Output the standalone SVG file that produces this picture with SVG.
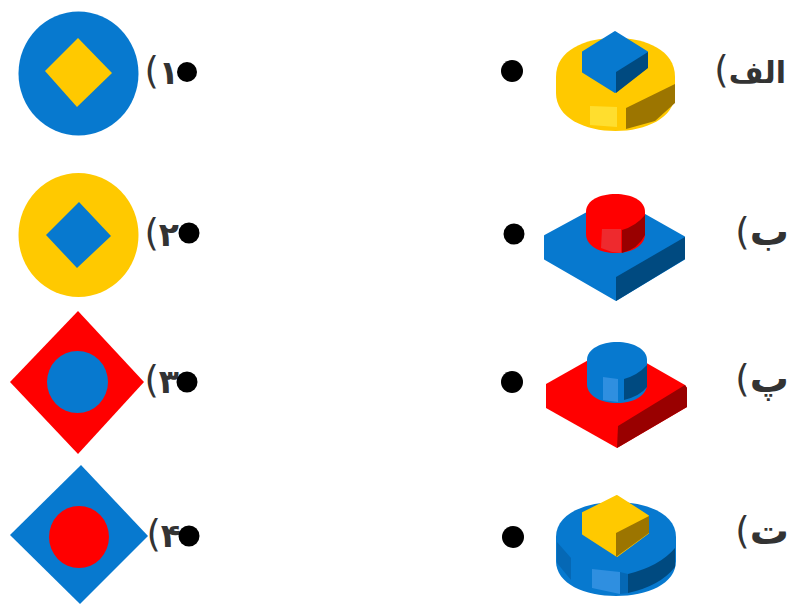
<svg xmlns="http://www.w3.org/2000/svg" width="791" height="604" viewBox="0 0 791 604">
<style>
.lb{font-family:"DejaVu Sans","Noto Sans",sans-serif;font-weight:700;font-size:33px;fill:#333;direction:rtl;text-anchor:start}
.big{font-size:39px}
.pr{font-size:37px;font-weight:400}
.dot{fill:#000}
.bl{fill:#0779cf}.bd{fill:#004a80}.bm{fill:#0568b5}.bh{fill:#2f8fe0}
.ye{fill:#ffc900}.yd{fill:#9c7500}.yh{fill:#ffde2e}
.re{fill:#f00}.rd{fill:#990000}.rh{fill:#ee2a2e}
.rj{stroke-linejoin:round;stroke-width:2}
.rj.bl{stroke:#0779cf}.rj.ye{stroke:#ffc900}
</style>
<rect width="791" height="604" fill="#fff"/>
<g id="option-1"><ellipse class="bl" cx="78.500" cy="73.500" rx="60" ry="62"/><polygon class="ye" points="78,38 112,73 77,107 45,71"/><text class="lb" x="179" y="84">۱<tspan class="pr">)</tspan></text></g>
<g id="option-2"><ellipse class="ye" cx="78.500" cy="235" rx="60" ry="62"/><polygon class="bl" points="79,202 111,236 77,268 46,235"/><text class="lb" x="179" y="246">۲<tspan class="pr">)</tspan></text></g>
<g id="option-3"><polygon class="re" points="78,311 144,382 78,454 10,382"/><ellipse class="bl" cx="77.500" cy="382" rx="30.500" ry="31"/><text class="lb" x="179" y="393">۳<tspan class="pr">)</tspan></text></g>
<g id="option-4"><polygon class="bl" points="81,465 148,536 80,604 10,535"/><ellipse class="re" cx="79" cy="537" rx="30" ry="31"/><text class="lb" x="181" y="547">۴<tspan class="pr">)</tspan></text></g>
<g id="dots">
<circle class="dot" cx="187" cy="72" r="10"/><circle class="dot" cx="189" cy="233" r="10.500"/><circle class="dot" cx="187" cy="382" r="10.500"/><circle class="dot" cx="189" cy="536" r="10.500"/>
<circle class="dot" cx="512" cy="71" r="11"/><circle class="dot" cx="514" cy="234" r="10.500"/><circle class="dot" cx="512" cy="382" r="11"/><circle class="dot" cx="513" cy="537" r="11"/>
</g>
<g id="shape-a">
<path class="ye" d="M556 77V93C556 118 585 131 615.500 131C646 131 675 118 675 93V77C675 50 646 38 615.500 38C585 38 556 50 556 77Z"/>
<polygon class="yd" points="626,108 675,84 675,103 655,121 626,129"/>
<polygon class="yh" points="590,106 617,107 617,127 590,125"/>
<polygon class="bl rj" points="615,32 647,52 647,67 615,92 583,72 583,52"/>
<polygon class="bd" points="648,52 616,72 616,93 648,68"/>
<text class="lb" x="786" y="83" style="font-size:30px">الف<tspan class="pr">)</tspan></text>
</g>
<g id="shape-b">
<polygon class="bl rj" points="545,236 615,198 684,237 684,259 616,300 545,259"/>
<polygon class="bd" points="685,237 616,277 616,301 685,259"/>
<path class="re" d="M586 212V234C586 246 600 253 615.500 253C631 253 645 246 645 234V212C645 200 631 194 615.500 194C600 194 586 200 586 212Z"/>
<polygon class="rh" points="602,229 621,229 621,253 612,252 601,248"/>
<path class="rd" d="M622 230Q636 226 645 215V235Q638 249 622 253Z"/>
<text class="lb big" x="789" y="245">ب<tspan class="pr">)</tspan></text>
</g>
<g id="shape-p">
<polygon class="re" points="546,384 615,345 685,385 687,388 687,407 617,448 546,408"/>
<polygon class="rd" points="685,385 687,388 687,407 617,448 618,426"/>
<path class="bl" d="M587 360V384C587 396 601 403 617 403C633 403 647 396 647 384V360C647 349 633 342 617 342C601 342 587 349 587 360Z"/>
<polygon class="bh" points="603,377 618,379 618,402 603,400"/>
<path class="bd" d="M624 379Q638 375 647 365V387Q640 396 624 400Z"/>
<text class="lb big" x="789" y="392">پ<tspan class="pr">)</tspan></text>
</g>
<g id="shape-t">
<path class="bl" d="M556 537V561C556 584 585 596 616 596C647 596 676 584 676 561V537C676 514 647 502 616 502C585 502 556 514 556 537Z"/>
<polygon class="bm" points="557,542 571,558 571,580 557,563"/>
<polygon class="bm" points="620,572 628,574 628,593 620,594"/>
<polygon class="bh" points="592,569 620,572 620,594 592,588"/>
<path class="bd" d="M628 574Q660 566 675 548V567Q660 586 628 593Z"/>
<polygon class="ye rj" points="617,496 648,516 648,533 617,556 583,534 583,513"/>
<polygon class="yd" points="649,516 616,533 616,557 649,533"/>
<text class="lb big" x="789" y="544">ت<tspan class="pr">)</tspan></text>
</g>
</svg>
